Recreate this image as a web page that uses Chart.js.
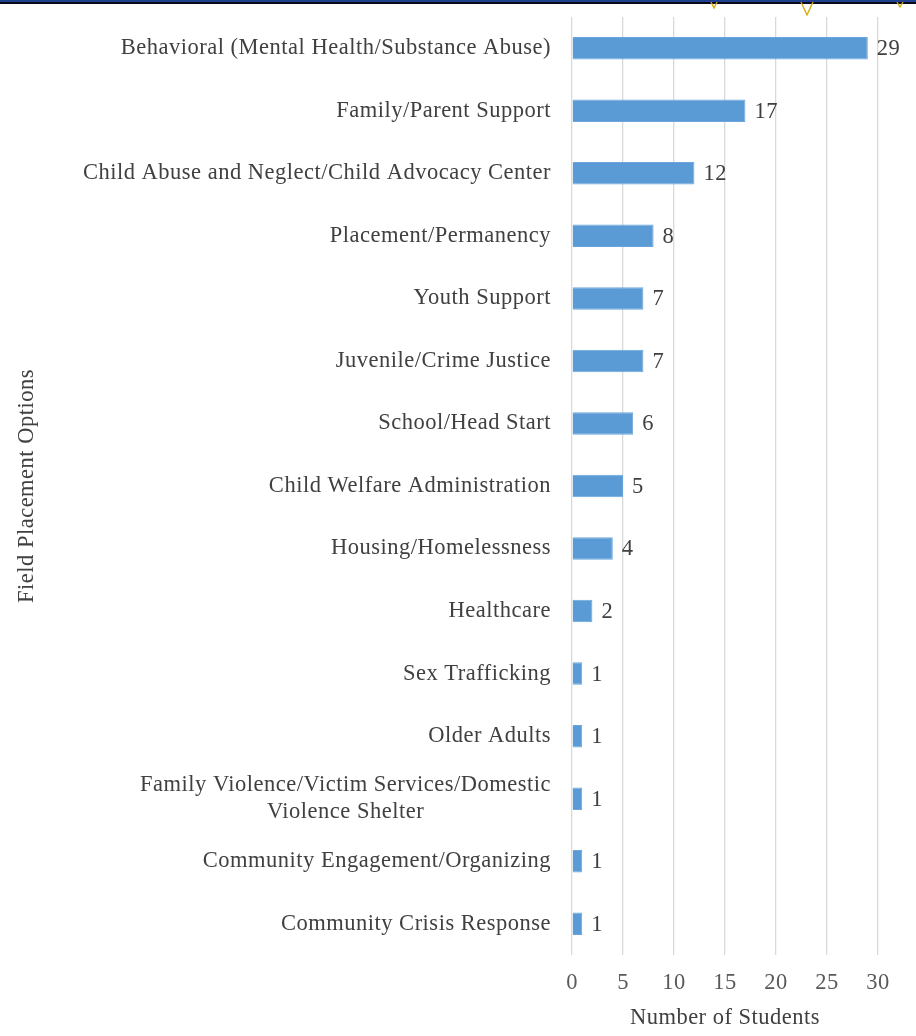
<!DOCTYPE html>
<html>
<head>
<meta charset="utf-8">
<script src="https://cdn.jsdelivr.net/npm/chart.js@4"></script>
<style>
  html, body { margin: 0; padding: 0; background: #fff; }
  #wrap { position: relative; width: 916px; height: 1036px; }
  #topbar { position: absolute; left: 0; top: 0; width: 916px; height: 2px; background: #1f3f8f; border-bottom: 2px solid #0a0a1a; z-index: 2; }
  #tri { position: absolute; left: 0; top: 0; z-index: 3; }
</style>
</head>
<body>
<div id="wrap">
  <div id="topbar"></div>
  <svg id="tri" width="916" height="20">
    <polyline points="711,2 714,8 717,2" fill="none" stroke="#d4a800" stroke-width="1.3"/>
    <polyline points="801,2 807,15 813,2" fill="none" stroke="#d4a800" stroke-width="1.3"/>
    <polyline points="897,2 900,7 903,2" fill="none" stroke="#d4a800" stroke-width="1.3"/>
  </svg>
  <canvas id="c" width="916" height="1036"></canvas>
</div>
<script>
const categories = [
  "Behavioral (Mental Health/Substance Abuse)",
  "Family/Parent Support",
  "Child Abuse and Neglect/Child Advocacy Center",
  "Placement/Permanency",
  "Youth Support",
  "Juvenile/Crime Justice",
  "School/Head Start",
  "Child Welfare Administration",
  "Housing/Homelessness",
  "Healthcare",
  "Sex Trafficking",
  "Older Adults",
  ["Family Violence/Victim Services/Domestic", "Violence Shelter"],
  "Community Engagement/Organizing",
  "Community Crisis Response"
];
const students = [29, 17, 12, 8, 7, 7, 6, 5, 4, 2, 1, 1, 1, 1, 1];
const xTicks = [0, 5, 10, 15, 20, 25, 30];
const xTitle = "Number of Students";
const yTitle = "Field Placement Options";

const FONT = "'Liberation Serif', 'Times New Roman', serif";
const FSIZE = 22.5;
const TEXT = "#404040";

const spacingPlugin = {
  id: 'spacingPlugin',
  beforeDraw(chart) { chart.ctx.letterSpacing = '0.5px'; }
};

const labelPlugin = {
  id: 'labelPlugin',
  afterDraw(chart) {
    const ctx = chart.ctx;
    const y = chart.scales.y;
    const x = chart.scales.x;
    ctx.save();
    ctx.letterSpacing = '0.5px';
    ctx.font = FSIZE + "px " + FONT;
    ctx.fillStyle = TEXT;
    ctx.textBaseline = "middle";
    const right = chart.chartArea.left - 21;
    categories.forEach((cat, i) => {
      const cy = y.getPixelForValue(i);
      const lines = Array.isArray(cat) ? cat : [cat];
      const widths = lines.map(l => ctx.measureText(l).width);
      const maxW = Math.max(...widths);
      const center = right - maxW / 2;
      const lh = 27;
      lines.forEach((l, j) => {
        const ly = cy + (j - (lines.length - 1) / 2) * lh;
        ctx.textAlign = "center";
        ctx.fillText(l, center, ly);
      });
      ctx.textAlign = "left";
      ctx.fillText(String(students[i]), x.getPixelForValue(students[i]) + 9, cy + 1);
    });
    ctx.restore();
  }
};

new Chart(document.getElementById('c'), {
  type: 'bar',
  data: {
    labels: categories,
    datasets: [{
      data: students,
      backgroundColor: '#5b9bd5',
      borderColor: '#6aa6dc',
      borderWidth: 1,
      barPercentage: 0.36,
      categoryPercentage: 1.0
    }]
  },
  options: {
    indexAxis: 'y',
    responsive: false,
    animation: false,
    layout: { padding: { top: 17, right: 38, left: 0, bottom: 0 } },
    plugins: { legend: { display: false }, tooltip: { enabled: false } },
    scales: {
      x: {
        min: 0, max: 30,
        afterBuildTicks(scale) { scale.ticks = xTicks.map(v => ({ value: v })); },
        afterFit(scale) { scale.height = 81; },
        grid: { color: '#d9d9d9', lineWidth: 1.3, drawTicks: false },
        border: { display: false },
        ticks: { font: { family: FONT, size: FSIZE }, color: '#595959', padding: 15 },
        title: { display: true, text: xTitle, font: { family: FONT, size: FSIZE }, color: TEXT, padding: { top: 0, bottom: 4 } }
      },
      y: {
        afterFit(scale) { scale.width = 572; },
        grid: { display: false, drawTicks: false },
        border: { display: false },
        ticks: { display: false },
        title: { display: true, text: yTitle, font: { family: FONT, size: FSIZE }, color: TEXT, padding: { top: 14, bottom: 0 } }
      }
    }
  },
  plugins: [spacingPlugin, labelPlugin]
});
</script>
</body>
</html>
